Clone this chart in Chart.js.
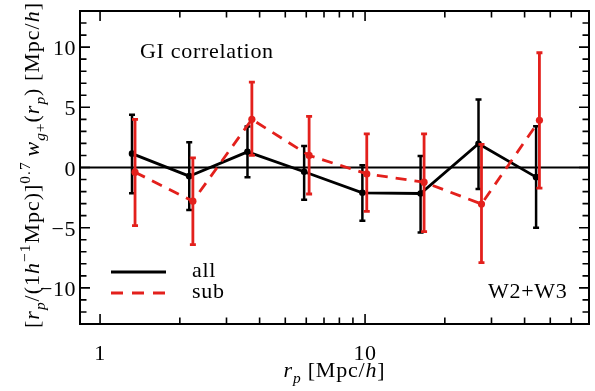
<!DOCTYPE html>
<html>
<head>
<meta charset="utf-8">
<script src="https://cdn.jsdelivr.net/npm/chart.js@4.4.0/dist/chart.umd.min.js"></script>
<style>
html,body{margin:0;padding:0;background:#fff;}
canvas{display:block;}
</style>
</head>
<body>
<canvas id="chart" width="595" height="391"></canvas>
<script>
// data
const rpAll  = [1.32, 2.17, 3.60, 5.89, 9.77, 16.2, 26.8, 44.2];
const wAll   = [1.15, -0.72, 1.30, -0.35, -2.10, -2.16, 1.97, -0.80];
const wAllHi = [4.39, 2.10, 3.40, 1.79, 0.19, 0.96, 5.64, 3.42];
const wAllLo = [-2.14, -3.53, -0.80, -2.67, -4.42, -5.39, -1.78, -5.00];

const rpSub  = [1.355, 2.24, 3.74, 6.15, 10.15, 16.7, 27.5, 45.5];
const wSub   = [-0.39, -2.80, 4.00, 1.00, -0.53, -1.22, -3.03, 3.92];
const wSubHi = [4.00, 0.80, 7.10, 4.25, 2.80, 2.80, 1.92, 9.53];
const wSubLo = [-4.83, -6.40, 1.00, -2.20, -3.64, -5.33, -7.90, -1.72];

const xMajor = [1, 10];
const xMajorLabels = ['1', '10'];
const xMinor = [2, 3, 4, 5, 6, 7, 8, 9, 20, 30, 40, 50, 60, 70];
const yMajor = [-10, -5, 0, 5, 10];
const yMajorLabels = ['\u221210', '\u22125', '0', '5', '10'];
const yMinor = [];
for (let v = -13; v <= 13; v++) if (v % 5 !== 0) yMinor.push(v);

const RED = '#e3201c';
const SERIF = '"Liberation Serif", "DejaVu Serif", serif';
const FS = 22;

function pts(xs, ys){ return xs.map((x, i) => ({x: x, y: ys[i]})); }

const errBars = [
  {xs: rpAll, lo: wAllLo, hi: wAllHi, color: '#000', width: 2.5},
  {xs: rpSub, lo: wSubLo, hi: wSubHi, color: RED, width: 2.8}
];

// text with sub/superscripts, drawn centred on the current origin
function richText(ctx, segs, size){
  const fontFor = s => (s.it ? 'italic ' : '') + ((s.sub || s.sup) ? size * 0.7 : size) + 'px ' + SERIF;
  let total = 0;
  segs.forEach(s => { ctx.font = fontFor(s); s.w = ctx.measureText(s.t).width; total += s.w; });
  let x = -total / 2;
  segs.forEach(s => {
    ctx.font = fontFor(s);
    const dy = s.sub ? size * 0.25 : s.sup ? -size * 0.42 : 0;
    ctx.fillText(s.t, x, dy);
    x += s.w;
  });
}

const yTitle = [
  {t: '['}, {t: 'r', it: 1}, {t: 'p', it: 1, sub: 1}, {t: '/(1'}, {t: 'h', it: 1},
  {t: '\u22121', sup: 1}, {t: 'Mpc)]'}, {t: '0.7 ', sup: 1}, {t: 'w', it: 1},
  {t: 'g', it: 1, sub: 1}, {t: '+', sub: 1}, {t: '('}, {t: 'r', it: 1},
  {t: 'p', it: 1, sub: 1}, {t: ') [Mpc/'}, {t: 'h', it: 1}, {t: ']'}
];
const xTitle = [
  {t: 'r', it: 1}, {t: 'p', it: 1, sub: 1}, {t: ' [Mpc/'}, {t: 'h', it: 1}, {t: ']'}
];

const decor = {
  id: 'decor',
  beforeDatasetsDraw(chart){
    const {ctx, chartArea: a, scales: {y}} = chart;
    ctx.save();
    ctx.strokeStyle = '#000';
    ctx.lineWidth = 2;
    const y0 = y.getPixelForValue(0);
    ctx.beginPath(); ctx.moveTo(a.left, y0); ctx.lineTo(a.right, y0); ctx.stroke();
    ctx.restore();
  },
  afterDatasetDraw(chart, args){
    const eb = errBars[args.index];
    const {ctx, scales: {x, y}} = chart;
    ctx.save();
    ctx.strokeStyle = eb.color;
    ctx.lineWidth = eb.width;
    eb.xs.forEach((xv, i) => {
      const px = x.getPixelForValue(xv);
      const top = y.getPixelForValue(eb.hi[i]);
      const bot = y.getPixelForValue(eb.lo[i]);
      ctx.beginPath(); ctx.moveTo(px, top); ctx.lineTo(px, bot); ctx.stroke();
      ctx.beginPath();
      ctx.moveTo(px - 3, top); ctx.lineTo(px + 3, top);
      ctx.moveTo(px - 3, bot); ctx.lineTo(px + 3, bot);
      ctx.stroke();
    });
    ctx.restore();
  },
  afterDraw(chart){
    const {ctx, chartArea: a, scales: {x, y}} = chart;
    ctx.save();
    ctx.strokeStyle = '#000';
    ctx.lineWidth = 2;
    ctx.strokeRect(a.left, a.top, a.right - a.left, a.bottom - a.top);

    // inward ticks on all four sides
    ctx.lineWidth = 1.6;
    ctx.beginPath();
    const xt = (v, len) => {
      const p = x.getPixelForValue(v);
      ctx.moveTo(p, a.bottom); ctx.lineTo(p, a.bottom - len);
      ctx.moveTo(p, a.top); ctx.lineTo(p, a.top + len);
    };
    const yt = (v, len) => {
      const p = y.getPixelForValue(v);
      ctx.moveTo(a.left, p); ctx.lineTo(a.left + len, p);
      ctx.moveTo(a.right, p); ctx.lineTo(a.right - len, p);
    };
    xMajor.forEach(v => xt(v, 10));
    xMinor.forEach(v => xt(v, 6.5));
    yMajor.forEach(v => yt(v, 10));
    yMinor.forEach(v => yt(v, 6.5));
    ctx.stroke();

    // tick labels
    ctx.fillStyle = '#000';
    ctx.letterSpacing = '0.5px';
    ctx.font = FS + 'px ' + SERIF;
    ctx.textAlign = 'center';
    ctx.textBaseline = 'alphabetic';
    xMajor.forEach((v, i) => ctx.fillText(xMajorLabels[i], x.getPixelForValue(v), 360));
    ctx.textAlign = 'right';
    yMajor.forEach((v, i) => ctx.fillText(yMajorLabels[i], 76, y.getPixelForValue(v) + 8));

    // axis titles
    ctx.textAlign = 'left';
    ctx.letterSpacing = '0.8px';
    ctx.save();
    ctx.translate((a.left + a.right) / 2, 377);
    richText(ctx, xTitle, FS);
    ctx.restore();
    ctx.save();
    ctx.letterSpacing = '1px';
    ctx.translate(39, 165);
    ctx.rotate(-Math.PI / 2);
    richText(ctx, yTitle, FS);
    ctx.restore();

    // annotations
    ctx.letterSpacing = '0.7px';
    ctx.font = FS + 'px ' + SERIF;
    ctx.fillText('GI correlation', 140, 58);
    ctx.fillText('W2+W3', 488, 298);

    // legend
    ctx.lineWidth = 3;
    ctx.strokeStyle = '#000';
    ctx.beginPath(); ctx.moveTo(111, 272); ctx.lineTo(166, 272); ctx.stroke();
    ctx.strokeStyle = RED;
    ctx.setLineDash([12, 9]);
    ctx.beginPath(); ctx.moveTo(111, 293); ctx.lineTo(166, 293); ctx.stroke();
    ctx.setLineDash([]);
    ctx.fillText('all', 192, 277);
    ctx.fillText('sub', 192, 298);
    ctx.restore();
  }
};

new Chart(document.getElementById('chart').getContext('2d'), {
  type: 'scatter',
  data: {
    datasets: [
      {
        label: 'all',
        data: pts(rpAll, wAll),
        showLine: true,
        borderColor: '#000',
        backgroundColor: '#000',
        borderWidth: 2.8,
        pointRadius: 3.3,
        pointBorderWidth: 0,
        order: 2
      },
      {
        label: 'sub',
        data: pts(rpSub, wSub),
        showLine: true,
        borderColor: RED,
        backgroundColor: RED,
        borderWidth: 2.8,
        borderDash: [11, 8],
        pointRadius: 3.6,
        pointBorderWidth: 0,
        order: 1
      }
    ]
  },
  options: {
    responsive: false,
    animation: false,
    events: [],
    layout: { padding: { top: 11, right: 6, left: 0, bottom: 0 } },
    scales: {
      x: {
        type: 'logarithmic',
        min: 0.84,
        max: 70,
        grid: { display: false },
        border: { display: false },
        ticks: { display: false },
        afterFit: s => { s.height = 67; }
      },
      y: {
        min: -13,
        max: 13,
        grid: { display: false },
        border: { display: false },
        ticks: { display: false },
        afterFit: s => { s.width = 80; }
      }
    },
    plugins: { legend: { display: false }, tooltip: { enabled: false } }
  },
  plugins: [decor]
});
</script>
</body>
</html>
